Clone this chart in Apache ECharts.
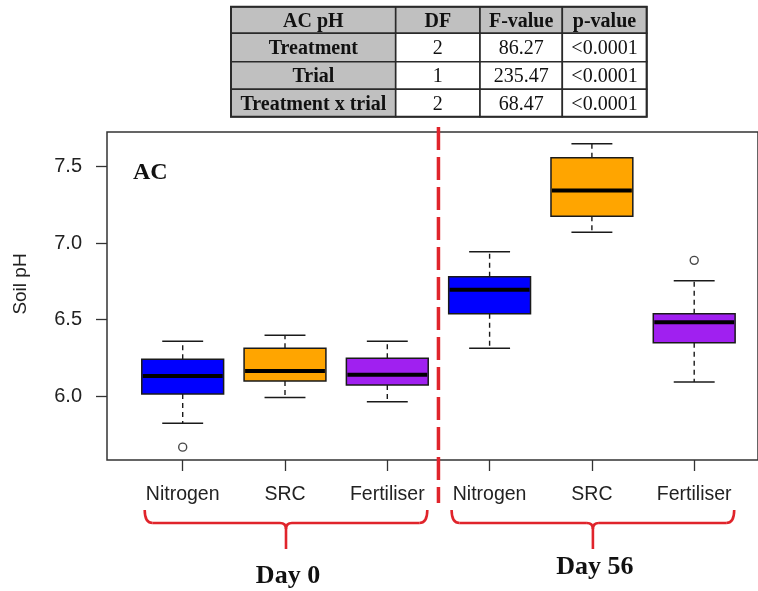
<!DOCTYPE html>
<html><head><meta charset="utf-8">
<script src="https://cdn.jsdelivr.net/npm/echarts@6/dist/echarts.min.js"></script>
<style>html,body{margin:0;padding:0;background:#fff}#c{width:758px;height:591px}</style>
</head><body><div id="c"></div>
<script>
// ---- data ----
const treatments = ['Nitrogen', 'SRC', 'Fertiliser', 'Nitrogen', 'SRC', 'Fertiliser'];
const days = ['Day 0', 'Day 56'];
const whiskerLow  = [5.823, 5.991, 5.963, 6.312, 7.070, 6.092];
const q1          = [6.013, 6.098, 6.072, 6.538, 7.175, 6.349];
const median      = [6.131, 6.163, 6.140, 6.695, 7.343, 6.482];
const q3          = [6.240, 6.312, 6.247, 6.780, 7.557, 6.538];
const whiskerHigh = [6.358, 6.397, 6.358, 6.944, 7.650, 6.754];
const outlierIndex = [0, 5];
const outlierValue = [5.666, 6.887];
const yTicks = [6.0, 6.5, 7.0, 7.5];
const yRange = [5.582, 7.726];
const panelLabel = 'AC';
const tableHeader = ['AC pH', 'DF', 'F-value', 'p-value'];
const tableRowNames = ['Treatment', 'Trial', 'Treatment x trial'];
const tableDF = ['2', '1', '2'];
const tableF = ['86.27', '235.47', '68.47'];
const tableP = ['<0.0001', '<0.0001', '<0.0001'];

// ---- styles ----
const boxColors = ['#0000FF', '#FFA500', '#A020F0'];
const ink = '#1a1a1a';
const red = '#E0242B';
const sans = '"Liberation Sans", Arial, sans-serif';
const serif = '"Liberation Serif", "Times New Roman", serif';

const boxData = treatments.map((t, i) => [i, whiskerLow[i], q1[i], median[i], q3[i], whiskerHigh[i]]);
const outlierData = outlierIndex.map((k, j) => [k, outlierValue[j]]);

function renderBox(params, api) {
  const i = api.value(0);
  const bw = api.size([1, 0])[0];
  const half = bw * 0.4, cap = bw * 0.2;
  const cx = api.coord([i, api.value(3)])[0];
  const yLo = api.coord([i, api.value(1)])[1];
  const yQ1 = api.coord([i, api.value(2)])[1];
  const yMed = api.coord([i, api.value(3)])[1];
  const yQ3 = api.coord([i, api.value(4)])[1];
  const yHi = api.coord([i, api.value(5)])[1];
  const dash = {stroke: ink, lineWidth: 1.4, lineDash: [5, 4]};
  const solid = {stroke: ink, lineWidth: 1.5};
  return {type: 'group', children: [
    {type: 'line', shape: {x1: cx, y1: yQ1, x2: cx, y2: yLo}, style: dash},
    {type: 'line', shape: {x1: cx, y1: yQ3, x2: cx, y2: yHi}, style: dash},
    {type: 'line', shape: {x1: cx - cap, y1: yLo, x2: cx + cap, y2: yLo}, style: solid},
    {type: 'line', shape: {x1: cx - cap, y1: yHi, x2: cx + cap, y2: yHi}, style: solid},
    {type: 'rect', shape: {x: cx - half, y: yQ3, width: 2 * half, height: yQ1 - yQ3},
      style: {fill: boxColors[i % 3], stroke: ink, lineWidth: 1.5}},
    {type: 'line', shape: {x1: cx - half + 1, y1: yMed, x2: cx + half - 1, y2: yMed}, style: {stroke: '#000', lineWidth: 4}}
  ]};
}

const chart = echarts.init(document.getElementById('c'), null, {renderer: 'canvas'});
chart.setOption({
  animation: false,
  backgroundColor: '#fff',
  grid: [
    {left: 107, top: 132, width: 663, height: 328, show: true, borderColor: '#333', borderWidth: 1.5, backgroundColor: 'transparent'},
    {left: 131.55, top: 132, width: 613.8, height: 328}
  ],
  xAxis: [
    {gridIndex: 0, type: 'value', min: 0, max: 1, show: false},
    {gridIndex: 1, type: 'category', data: treatments, boundaryGap: true,
      axisLine: {show: false},
      axisTick: {show: true, alignWithLabel: true, length: 11, lineStyle: {color: '#333', width: 1.3}},
      axisLabel: {margin: 25, fontFamily: sans, fontSize: 19.5, color: '#222', interval: 0},
      splitLine: {show: false}}
  ],
  yAxis: [
    {gridIndex: 0, type: 'value', min: yRange[0], max: yRange[1],
      name: 'Soil pH', nameLocation: 'middle', nameGap: 77,
      nameTextStyle: {fontFamily: sans, fontSize: 19, color: '#222', padding: [0, 0, 0, 24]},
      axisLine: {show: false},
      axisTick: {show: true, length: 11, customValues: yTicks, lineStyle: {color: '#333', width: 1.3}},
      axisLabel: {margin: 25, customValues: yTicks, formatter: v => v.toFixed(1), fontFamily: sans, fontSize: 20, color: '#222'},
      splitLine: {show: false}},
    {gridIndex: 1, type: 'value', min: yRange[0], max: yRange[1], show: false, splitLine: {show: false}}
  ],
  series: [
    {type: 'custom', xAxisIndex: 1, yAxisIndex: 1, data: boxData, encode: {x: 0, y: [1, 2, 3, 4, 5]}, renderItem: renderBox, z: 2},
    {type: 'scatter', xAxisIndex: 1, yAxisIndex: 1, data: outlierData, symbol: 'circle', symbolSize: 8,
      itemStyle: {color: '#fff', borderColor: ink, borderWidth: 1.4}, z: 3}
  ]
});

// ---- decorations placed from axis positions ----
const px = i => chart.convertToPixel({xAxisIndex: 1}, i);
const g = [];
const sepX = (px(2) + px(3)) / 2;
g.push({type: 'line', shape: {x1: sepX, y1: 127, x2: sepX, y2: 503}, style: {stroke: red, lineWidth: 3.5, lineDash: [23, 7]}, z: 10});

// braces + day labels
const braceTop = 510, braceMid = 523, braceBot = 549;
const bstyle = {fill: null, stroke: red, lineWidth: 2.6};
days.forEach((d, k) => {
  const l = px(3 * k) - 38, r = px(3 * k + 2) + 40, s = px(3 * k + 1) + 1;
  const m = braceMid;
  g.push({type: 'bezierCurve', shape: {x1: l, y1: braceTop, x2: l + 8, y2: m, cpx1: l, cpy1: m}, style: bstyle, z: 10});
  g.push({type: 'line', shape: {x1: l + 8, y1: m, x2: s - 6, y2: m}, style: bstyle, z: 10});
  g.push({type: 'bezierCurve', shape: {x1: s - 6, y1: m, x2: s, y2: m + 6, cpx1: s, cpy1: m}, style: bstyle, z: 10});
  g.push({type: 'bezierCurve', shape: {x1: s + 6, y1: m, x2: s, y2: m + 6, cpx1: s, cpy1: m}, style: bstyle, z: 10});
  g.push({type: 'line', shape: {x1: s, y1: m + 6, x2: s, y2: braceBot}, style: bstyle, z: 10});
  g.push({type: 'line', shape: {x1: s + 6, y1: m, x2: r - 8, y2: m}, style: bstyle, z: 10});
  g.push({type: 'bezierCurve', shape: {x1: r - 8, y1: m, x2: r, y2: braceTop, cpx1: r, cpy1: m}, style: bstyle, z: 10});
  g.push({type: 'text', x: s + 2, y: k === 0 ? 576 : 567,
    style: {text: d, fontFamily: serif, fontWeight: 'bold', fontSize: 26, fill: '#111', align: 'center', verticalAlign: 'middle'}, z: 10});
});

// panel label
g.push({type: 'text', x: 133, y: 173, style: {text: panelLabel, fontFamily: serif, fontWeight: 'bold', fontSize: 24, fill: '#111', align: 'left', verticalAlign: 'middle'}, z: 10});

// ANOVA table
const colX = [231, 395.7, 480, 562.3, 646.7];
const rowY = [6.7, 33.3, 61.7, 89.3, 116.7];
const gray = '#C0C0C0';
const rows = [tableHeader].concat(tableRowNames.map((n, i) => [n, tableDF[i], tableF[i], tableP[i]]));
rows.forEach((row, ri) => {
  row.forEach((cell, ci) => {
    const x0 = colX[ci], x1 = colX[ci + 1], y0 = rowY[ri], y1 = rowY[ri + 1];
    const shaded = ri === 0 || ci === 0;
    g.push({type: 'rect', shape: {x: x0, y: y0, width: x1 - x0, height: y1 - y0},
      style: {fill: shaded ? gray : '#fff', stroke: '#2a2a2a', lineWidth: 1.6}, z: 20});
    g.push({type: 'text', x: (x0 + x1) / 2, y: (y0 + y1) / 2 + 1.5,
      style: {text: cell, fontFamily: serif, fontWeight: shaded ? 'bold' : 'normal', fontSize: 20, fill: '#111', align: 'center', verticalAlign: 'middle'}, z: 21});
  });
});
g.push({type: 'rect', shape: {x: colX[0], y: rowY[0], width: colX[4] - colX[0], height: rowY[4] - rowY[0]},
  style: {fill: null, stroke: '#2a2a2a', lineWidth: 2}, z: 22});

chart.setOption({graphic: g});
</script>
</body></html>
